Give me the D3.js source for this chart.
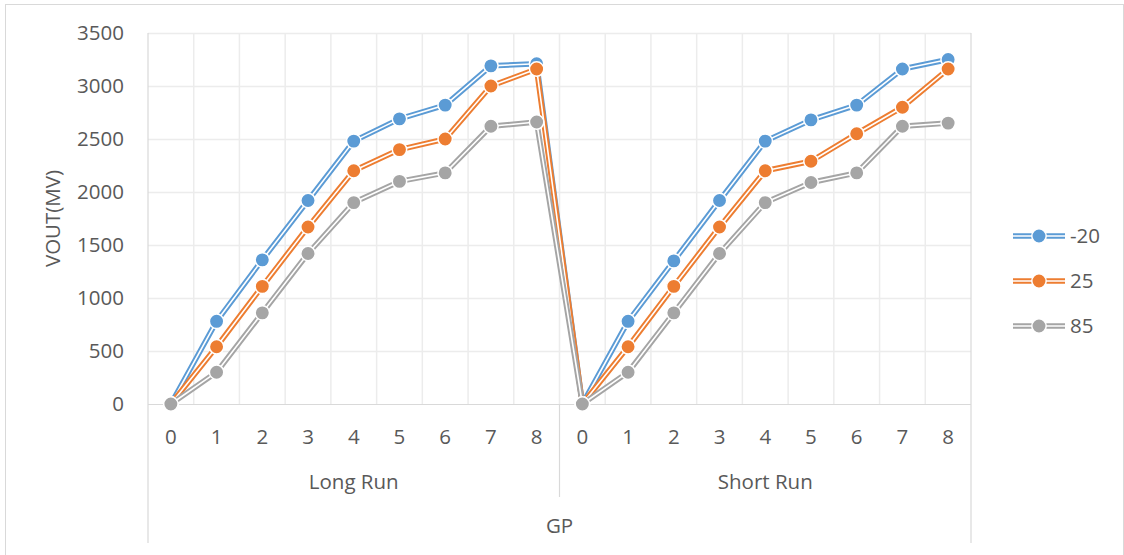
<!DOCTYPE html>
<html>
<head>
<meta charset="utf-8">
<script src="https://cdn.jsdelivr.net/npm/d3@7"></script>
<style>
  body { margin: 0; background: #fff; }
  text { font-family: "Open Sans", sans-serif; fill: #595959; }
</style>
</head>
<body>
<script>
// categories
var gp = [0, 1, 2, 3, 4, 5, 6, 7, 8];
var groups = ["Long Run", "Short Run"];

// series values, Long Run then Short Run
var seriesNames = ["-20", "25", "85"];
var vMinus20 = [0, 780, 1360, 1920, 2480, 2690, 2820, 3190, 3210,
                0, 780, 1350, 1920, 2480, 2680, 2820, 3160, 3250];
var v25 = [0, 540, 1110, 1670, 2200, 2400, 2500, 3000, 3160,
           0, 540, 1110, 1670, 2200, 2290, 2550, 2800, 3160];
var v85 = [0, 300, 860, 1420, 1900, 2100, 2180, 2620, 2660,
           0, 300, 860, 1420, 1900, 2090, 2180, 2620, 2650];
var yTicks = [0, 500, 1000, 1500, 2000, 2500, 3000, 3500];

var colors = ["#5B9BD5", "#ED7D31", "#A5A5A5"];
var values = [vMinus20, v25, v85];

var width = 1124, height = 555;
var mLeft = 148, mRight = 971, mTop = 33, mBottom = 404;
var fs = 20.5;

var cats = [];
groups.forEach((g, gi) => gp.forEach(v => cats.push({group: g, gi: gi, gp: v, key: gi + "-" + v})));

var x = d3.scaleBand()
    .domain(cats.map(d => d.key))
    .range([mLeft, mRight])
    .padding(0);

var y = d3.scaleLinear()
    .domain([0, 3500])
    .range([mBottom, mTop]);

var svg = d3.select("body").append("svg")
    .attr("width", width)
    .attr("height", height);

// chart border
svg.append("rect")
    .attr("x", 5.5).attr("y", 4.5)
    .attr("width", 1118).attr("height", 570)
    .attr("fill", "none")
    .attr("stroke", "#d9d9d9");

// horizontal gridlines
svg.append("g")
  .selectAll("line")
  .data(yTicks.filter(d => d > 0))
  .join("line")
    .attr("x1", mLeft).attr("x2", mRight)
    .attr("y1", d => Math.round(y(d)) + 0.5)
    .attr("y2", d => Math.round(y(d)) + 0.5)
    .attr("stroke", "#ececec")
    .attr("stroke-width", 1.5);

// vertical gridlines at category boundaries
var bounds = d3.range(1, cats.length).map(i => mLeft + i * x.bandwidth());
svg.append("g")
  .selectAll("line")
  .data(bounds)
  .join("line")
    .attr("x1", d => d).attr("x2", d => d)
    .attr("y1", mTop).attr("y2", mBottom)
    .attr("stroke", "#ececec")
    .attr("stroke-width", 1.5);

// category axis line and group dividers
var axisG = svg.append("g").attr("stroke", "#d9d9d9").attr("stroke-width", 1.2);
axisG.append("line")
    .attr("x1", mLeft).attr("x2", mRight)
    .attr("y1", mBottom + 0.5).attr("y2", mBottom + 0.5);
axisG.append("line")
    .attr("x1", mLeft).attr("x2", mLeft)
    .attr("y1", mTop).attr("y2", 543);
axisG.append("line")
    .attr("x1", mRight).attr("x2", mRight)
    .attr("y1", mTop).attr("y2", 543);
axisG.append("line")
    .attr("x1", mLeft + gp.length * x.bandwidth()).attr("x2", mLeft + gp.length * x.bandwidth())
    .attr("y1", mBottom).attr("y2", 497);

// y tick labels
svg.append("g")
  .selectAll("text")
  .data(yTicks)
  .join("text")
    .attr("x", 124)
    .attr("y", d => y(d))
    .attr("dy", "0.36em")
    .attr("text-anchor", "end")
    .attr("font-size", fs)
    .text(d => d);

// x tick labels
svg.append("g")
  .selectAll("text")
  .data(cats)
  .join("text")
    .attr("x", d => x(d.key) + x.bandwidth() / 2)
    .attr("y", 437)
    .attr("dy", "0.36em")
    .attr("text-anchor", "middle")
    .attr("font-size", fs)
    .text(d => d.gp);

// group labels
svg.append("g")
  .selectAll("text")
  .data(groups)
  .join("text")
    .attr("x", (d, i) => mLeft + (i + 0.5) * gp.length * x.bandwidth())
    .attr("y", 482)
    .attr("dy", "0.36em")
    .attr("text-anchor", "middle")
    .attr("font-size", fs)
    .text(d => d);

// axis titles
svg.append("text")
    .attr("x", (mLeft + mRight) / 2)
    .attr("y", 526)
    .attr("dy", "0.36em")
    .attr("text-anchor", "middle")
    .attr("font-size", fs)
    .text("GP");

svg.append("text")
    .attr("transform", `translate(53,${(mTop + mBottom) / 2}) rotate(-90)`)
    .attr("dy", "0.36em")
    .attr("text-anchor", "middle")
    .attr("font-size", fs)
    .text("VOUT(MV)");

// series
var line = d3.line()
    .x((d, i) => x(cats[i].key) + x.bandwidth() / 2)
    .y(d => y(d));

values.forEach((vals, si) => {
  var g = svg.append("g");
  g.append("path")
      .attr("d", line(vals))
      .attr("fill", "none")
      .attr("stroke", colors[si])
      .attr("stroke-width", 5.5)
      .attr("stroke-linejoin", "round");
  g.append("path")
      .attr("d", line(vals))
      .attr("fill", "none")
      .attr("stroke", "#fff")
      .attr("stroke-width", 1.6)
      .attr("stroke-linejoin", "round");
  g.selectAll("circle")
    .data(vals)
    .join("circle")
      .attr("cx", (d, i) => x(cats[i].key) + x.bandwidth() / 2)
      .attr("cy", d => y(d))
      .attr("r", 7.2)
      .attr("fill", colors[si])
      .attr("stroke", "#fff")
      .attr("stroke-width", 1.5);
});

// legend
var legend = svg.append("g")
  .selectAll("g")
  .data(seriesNames)
  .join("g")
    .attr("transform", (d, i) => `translate(1013,${236 + i * 45})`);

legend.append("line")
    .attr("x1", 0).attr("x2", 52)
    .attr("stroke", (d, i) => colors[i])
    .attr("stroke-width", 5.5);
legend.append("line")
    .attr("x1", 0).attr("x2", 52)
    .attr("stroke", "#fff")
    .attr("stroke-width", 1.6);
legend.append("circle")
    .attr("cx", 26)
    .attr("r", 7.2)
    .attr("fill", (d, i) => colors[i])
    .attr("stroke", "#fff")
    .attr("stroke-width", 1.5);
legend.append("text")
    .attr("x", 57)
    .attr("dy", "0.36em")
    .attr("font-size", fs)
    .text(d => d);
</script>
</body>
</html>
